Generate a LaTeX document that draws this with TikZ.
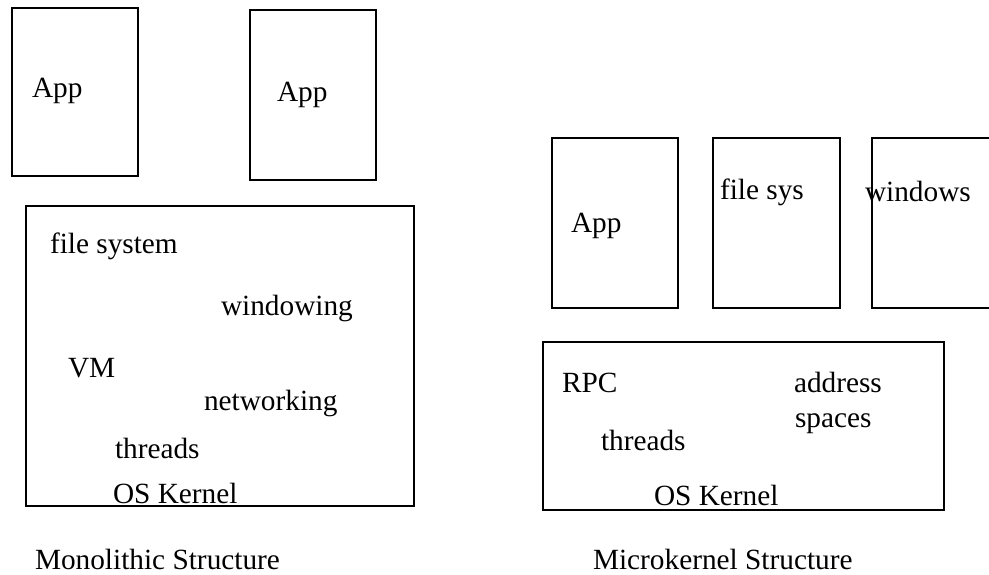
\documentclass[tikz,border=0pt]{standalone}
\usepackage{fontspec}
\setmainfont{Liberation Serif}
\begin{document}
\begin{tikzpicture}[x=1pt,y=-1pt,
  box/.style={draw=black,line width=2pt,fill=none},
  lbl/.style={anchor=base west,inner sep=0pt,outer sep=0pt,font=\fontsize{29.3}{35}\selectfont}]
\clip (0,0) rectangle (989,575);
\fill[white] (0,0) rectangle (989,575);
% Monolithic
\draw[box] (12,8) rectangle (138,176) coordinate (appA);
\draw[box] (250,10) rectangle (376,180) coordinate (appB);
\draw[box] (26,206) rectangle (414,506) coordinate (monoK);
\node[lbl] (tAppA) at (32,98) {App};
\node[lbl] (tAppB) at (277,102) {App};
\node[lbl] (tfs) at (50,254) {file system};
\node[lbl] (twin) at (221,315) {windowing};
\node[lbl] (tvm) at (68,377) {VM};
\node[lbl] (tnet) at (204,410) {networking};
\node[lbl] (tthr) at (115,458) {threads};
\node[lbl] (tosk) at (113,503) {OS Kernel};
\node[lbl] (tmono) at (35,569) {Monolithic Structure};
% Microkernel
\draw[box] (552,138) rectangle (678,308) coordinate (appC);
\draw[box] (713,138) rectangle (840,308) coordinate (fsbox);
\draw[box] (872,138) rectangle (1000,308) coordinate (winbox);
\draw[box] (543,342) rectangle (944,510) coordinate (microK);
\node[lbl] (tAppC) at (571,233) {App};
\node[lbl] (tfsys) at (720,200) {file sys};
\node[lbl] (twins) at (865,202) {windows};
\node[lbl] (trpc) at (562,392) {RPC};
\node[lbl] (taddr) at (794,392) {address};
\node[lbl] (tspc) at (795,427) {spaces};
\node[lbl] (tthr2) at (601,450) {threads};
\node[lbl] (tosk2) at (654,505) {OS Kernel};
\node[lbl] (tmicro) at (593,569) {Microkernel Structure};
\end{tikzpicture}
\end{document}
